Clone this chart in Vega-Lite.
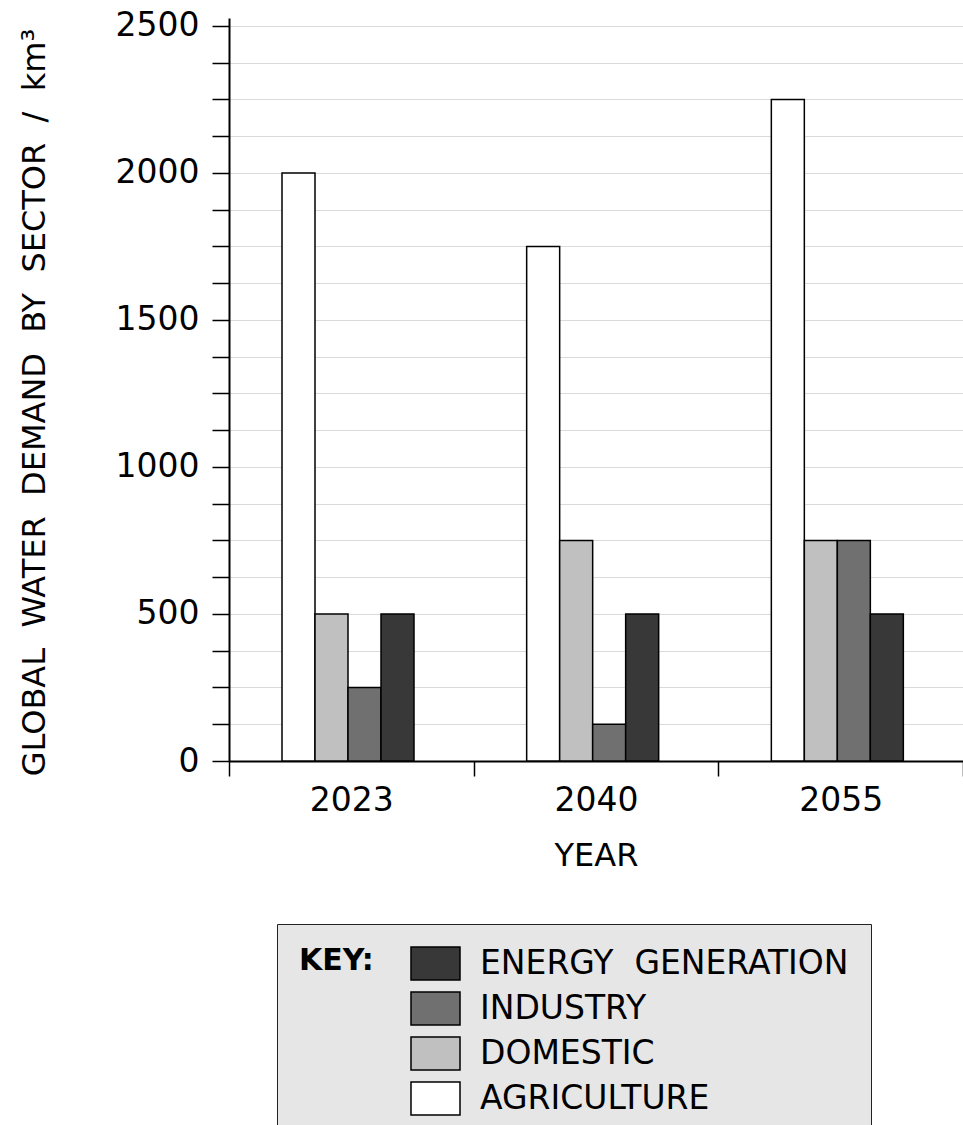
{
  "$schema": "https://vega.github.io/schema/vega-lite/v6.json",
  "autosize": {"type": "none"},
  "padding": {"left": 229, "top": 18, "right": 0, "bottom": 364},
  "width": 734,
  "height": 743,
  "background": "white",
  "config": {
    "font": "DejaVu Sans",
    "view": {"stroke": null},
    "axis": {"labelColor": "black", "titleColor": "black", "domainColor": "black", "tickColor": "black"}
  },
  "data": {
    "values": [
      {"year": "2023", "sector": "AGRICULTURE", "demand": 2000},
      {"year": "2023", "sector": "DOMESTIC", "demand": 500},
      {"year": "2023", "sector": "INDUSTRY", "demand": 250},
      {"year": "2023", "sector": "ENERGY GENERATION", "demand": 500},
      {"year": "2040", "sector": "AGRICULTURE", "demand": 1750},
      {"year": "2040", "sector": "DOMESTIC", "demand": 750},
      {"year": "2040", "sector": "INDUSTRY", "demand": 125},
      {"year": "2040", "sector": "ENERGY GENERATION", "demand": 500},
      {"year": "2055", "sector": "AGRICULTURE", "demand": 2250},
      {"year": "2055", "sector": "DOMESTIC", "demand": 750},
      {"year": "2055", "sector": "INDUSTRY", "demand": 750},
      {"year": "2055", "sector": "ENERGY GENERATION", "demand": 500}
    ]
  },
  "mark": {"type": "bar", "stroke": "black", "strokeWidth": 1.5},
  "encoding": {
    "x": {
      "field": "year",
      "type": "nominal",
      "scale": {"paddingInner": 0, "paddingOuter": 0},
      "axis": {
        "title": "YEAR",
        "titleFontSize": 32,
        "titleFontWeight": "normal",
        "titlePadding": 23,
        "labelFontSize": 33,
        "labelAngle": 0,
        "labelPadding": 8,
        "tickBand": "extent",
        "tickSize": 15,
        "tickWidth": 1.5,
        "domainWidth": 2,
        "grid": false
      }
    },
    "xOffset": {
      "field": "sector",
      "type": "nominal",
      "sort": ["AGRICULTURE", "DOMESTIC", "INDUSTRY", "ENERGY GENERATION"],
      "scale": {"range": [53, 185], "paddingInner": 0, "paddingOuter": 0}
    },
    "y": {
      "field": "demand",
      "type": "quantitative",
      "scale": {"domain": [0, 2527], "nice": false},
      "axis": {
        "title": "GLOBAL\u00a0\u00a0WATER\u00a0\u00a0DEMAND\u00a0\u00a0BY\u00a0\u00a0SECTOR\u00a0\u00a0/\u00a0\u00a0km³",
        "titleFontSize": 32,
        "titleFontWeight": "normal",
        "titlePadding": 64,
        "titleY": 384,
        "values": [0, 125, 250, 375, 500, 625, 750, 875, 1000, 1125, 1250, 1375, 1500, 1625, 1750, 1875, 2000, 2125, 2250, 2375, 2500],
        "labelExpr": "datum.value % 500 === 0 ? datum.label : ''",
        "format": "d",
        "labelFontSize": 33,
        "labelPadding": 13,
        "tickSize": 17,
        "tickWidth": 1.5,
        "domainWidth": 2,
        "grid": true,
        "gridColor": "#dadada",
        "gridWidth": 1.2
      }
    },
    "color": {
      "field": "sector",
      "type": "nominal",
      "scale": {
        "domain": ["AGRICULTURE", "DOMESTIC", "INDUSTRY", "ENERGY GENERATION"],
        "range": ["#ffffff", "#c0c0c0", "#707070", "#383838"]
      },
      "legend": {
        "title": "KEY:",
        "values": ["ENERGY GENERATION", "INDUSTRY", "DOMESTIC", "AGRICULTURE"],
        "labelExpr": "replace(datum.label, ' ', '\u00a0\u00a0')",
        "orient": "none",
        "legendX": 48,
        "legendY": 906,
        "direction": "vertical",
        "titleOrient": "left",
        "titleAnchor": "start",
        "titleBaseline": "top",
        "titleFontSize": 30,
        "titleFontWeight": "bold",
        "titleColor": "black",
        "titlePadding": 44,
        "padding": 22,
        "fillColor": "#e6e6e6",
        "strokeColor": "#222222",
        "symbolType": "M-1.485,-1L1.485,-1L1.485,1L-1.485,1Z",
        "symbolSize": 1089,
        "symbolStrokeColor": "black",
        "symbolStrokeWidth": 1.5,
        "symbolOpacity": 1,
        "labelFontSize": 33,
        "labelColor": "black",
        "labelOffset": 27,
        "rowPadding": 6,
        "labelLimit": 600
      }
    }
  }
}
